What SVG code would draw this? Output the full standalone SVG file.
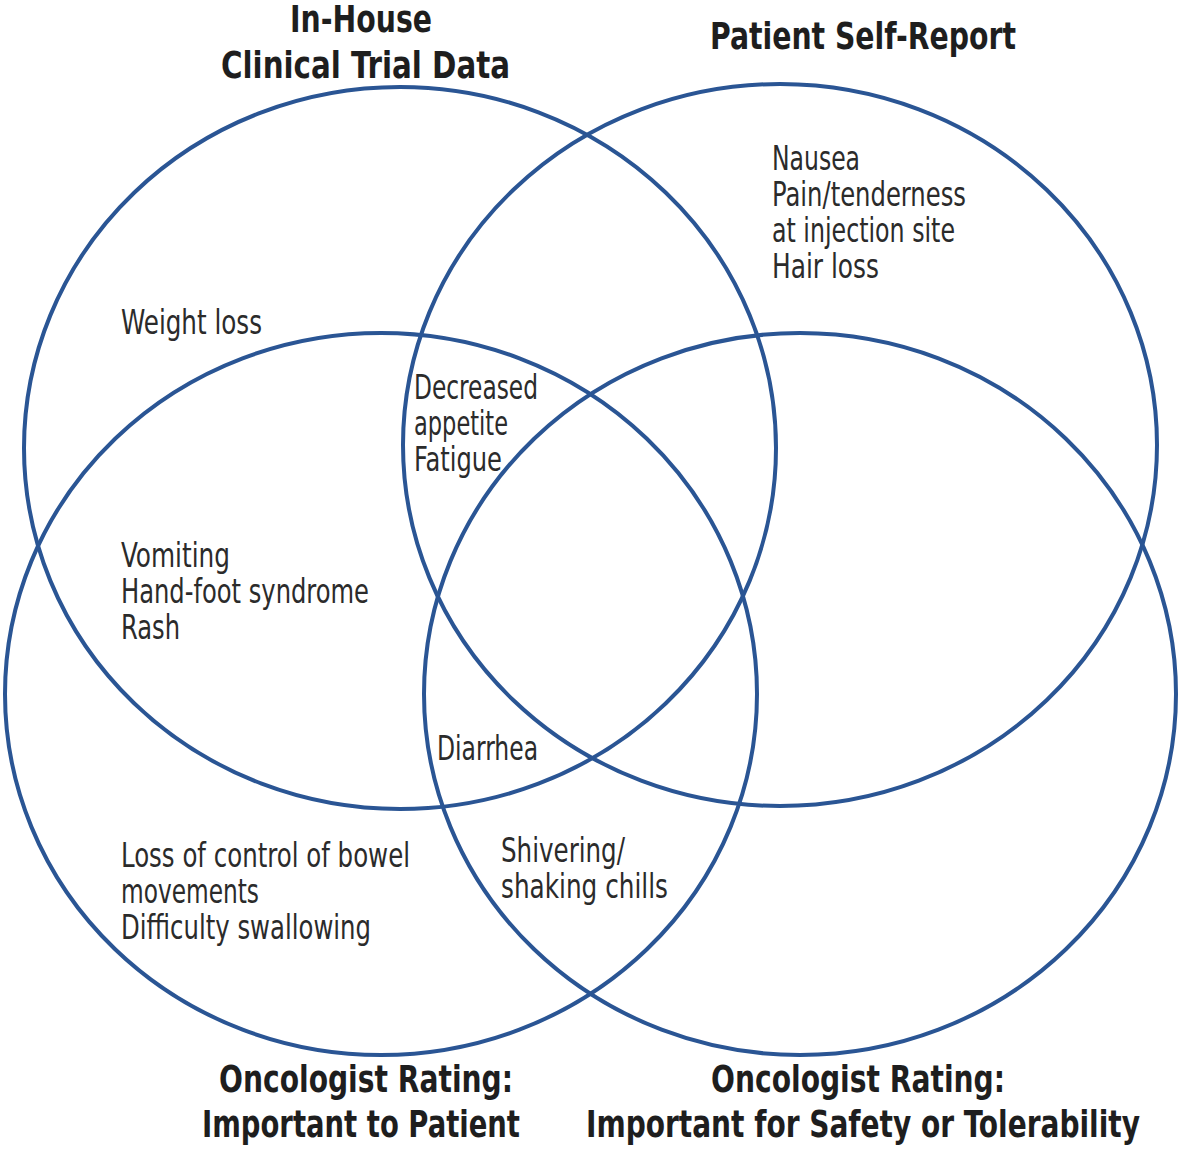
<svg xmlns="http://www.w3.org/2000/svg" width="1181" height="1151" viewBox="0 0 1181 1151">
<style>
.c{fill:none;stroke:#2a5594;stroke-width:4}
.t{font-family:"Liberation Sans Narrow","DejaVu Sans Condensed","Liberation Sans",sans-serif;font-size:33px;fill:#2b2b2b}
.h{font-family:"Liberation Sans Narrow","DejaVu Sans Condensed","Liberation Sans",sans-serif;font-size:38px;font-weight:bold;fill:#1e1e1e}
</style>
<rect width="1181" height="1151" fill="#fff"/>
<g id="connectors"></g>
<g id="set-inhouse">
<ellipse class="c" cx="400" cy="448" rx="376" ry="361"/>
<text class="h" x="290" y="32" textLength="142" lengthAdjust="spacingAndGlyphs">In-House</text>
<text class="h" x="221" y="78" textLength="289" lengthAdjust="spacingAndGlyphs">Clinical Trial Data</text>
</g>
<g id="set-patient">
<ellipse class="c" cx="780" cy="445" rx="377" ry="361"/>
<text class="h" x="710" y="49" textLength="306" lengthAdjust="spacingAndGlyphs">Patient Self-Report</text>
</g>
<g id="set-onc-patient">
<ellipse class="c" cx="381" cy="694" rx="376" ry="361"/>
<text class="h" x="219" y="1092" textLength="294" lengthAdjust="spacingAndGlyphs">Oncologist Rating:</text>
<text class="h" x="202" y="1137" textLength="318" lengthAdjust="spacingAndGlyphs">Important to Patient</text>
</g>
<g id="set-onc-safety">
<ellipse class="c" cx="800" cy="694" rx="376" ry="361"/>
<text class="h" x="711" y="1092" textLength="294" lengthAdjust="spacingAndGlyphs">Oncologist Rating:</text>
<text class="h" x="586" y="1137" textLength="554" lengthAdjust="spacingAndGlyphs">Important for Safety or Tolerability</text>
</g>
<g id="labels-inhouse">
<text class="t" x="121" y="334" textLength="141" lengthAdjust="spacingAndGlyphs">Weight loss</text>
</g>
<g id="labels-patient">
<text class="t" x="772" y="170" textLength="88" lengthAdjust="spacingAndGlyphs">Nausea</text>
<text class="t" x="772" y="206" textLength="194" lengthAdjust="spacingAndGlyphs">Pain/tenderness</text>
<text class="t" x="772" y="242" textLength="183" lengthAdjust="spacingAndGlyphs">at injection site</text>
<text class="t" x="772" y="278" textLength="107" lengthAdjust="spacingAndGlyphs">Hair loss</text>
</g>
<g id="labels-inhouse-patient">
<text class="t" x="414" y="399" textLength="124" lengthAdjust="spacingAndGlyphs">Decreased</text>
<text class="t" x="414" y="435" textLength="94" lengthAdjust="spacingAndGlyphs">appetite</text>
<text class="t" x="414" y="471" textLength="88" lengthAdjust="spacingAndGlyphs">Fatigue</text>
</g>
<g id="labels-inhouse-oncpatient">
<text class="t" x="121" y="567" textLength="109" lengthAdjust="spacingAndGlyphs">Vomiting</text>
<text class="t" x="121" y="603" textLength="248" lengthAdjust="spacingAndGlyphs">Hand-foot syndrome</text>
<text class="t" x="121" y="639" textLength="59" lengthAdjust="spacingAndGlyphs">Rash</text>
</g>
<g id="labels-diarrhea">
<text class="t" x="437" y="760" textLength="101" lengthAdjust="spacingAndGlyphs">Diarrhea</text>
</g>
<g id="labels-oncpatient">
<text class="t" x="121" y="867" textLength="289" lengthAdjust="spacingAndGlyphs">Loss of control of bowel</text>
<text class="t" x="121" y="903" textLength="138" lengthAdjust="spacingAndGlyphs">movements</text>
<text class="t" x="121" y="939" textLength="250" lengthAdjust="spacingAndGlyphs">Difficulty swallowing</text>
</g>
<g id="labels-onc-both">
<text class="t" x="501" y="862" textLength="124" lengthAdjust="spacingAndGlyphs">Shivering/</text>
<text class="t" x="501" y="898" textLength="167" lengthAdjust="spacingAndGlyphs">shaking chills</text>
</g>
</svg>
